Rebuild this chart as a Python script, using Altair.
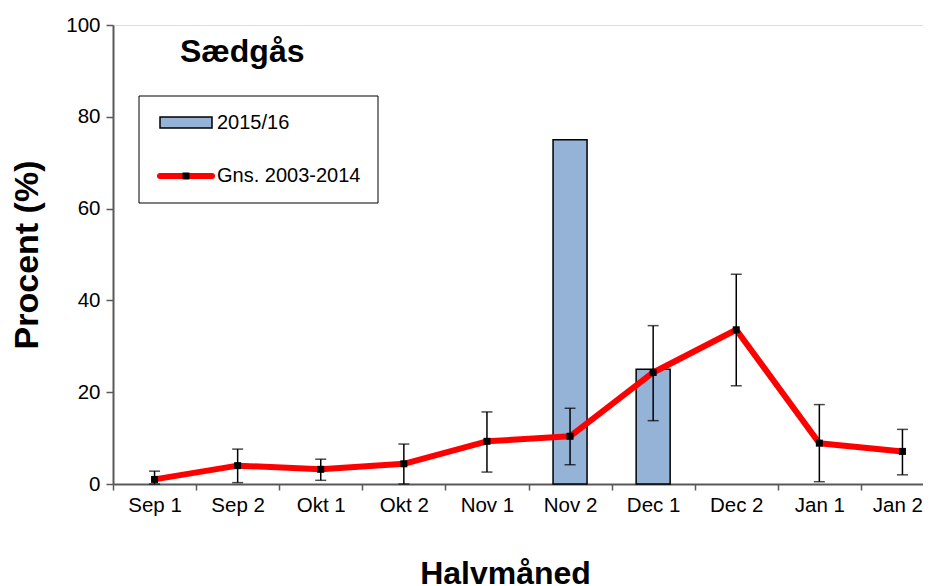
import altair as alt
import pandas as pd

categories = ["Sep 1", "Sep 2", "Okt 1", "Okt 2", "Nov 1", "Nov 2", "Dec 1", "Dec 2", "Jan 1", "Jan 2"]
season_2015 = [0, 0, 0, 0, 0, 75, 25, 0, 0, 0]
mean_2003_2014 = [1.0, 4.0, 3.2, 4.4, 9.3, 10.4, 24.3, 33.6, 8.9, 7.1]
err_low = [0.0, 0.3, 0.8, 0.0, 2.6, 4.2, 13.8, 21.4, 0.5, 2.0]
err_high = [2.8, 7.6, 5.4, 8.7, 15.7, 16.5, 34.5, 45.7, 17.3, 11.9]
y_ticks = [0, 20, 40, 60, 80, 100]

df = pd.DataFrame({
    "i": list(range(len(categories))),
    "cat": categories,
    "bar": season_2015,
    "mean": mean_2003_2014,
    "lo": err_low,
    "hi": err_high,
})

FONT = "Liberation Sans"
AXIS_COLOR = "#595959"

PLOT_W = 810
STEP = 83.1
x_max = -0.5 + PLOT_W / STEP  # the original plot runs past the right edge of the picture
boundaries = [k - 0.5 for k in range(len(categories))]
cat_js = "[" + ",".join("'" + c + "'" for c in categories) + "]"
last_b = boundaries[-1]

x_scale = alt.Scale(domain=[-0.5, x_max], nice=False, zero=False, padding=0)
x_axis = alt.Axis(
    title="Halvmåned",
    values=boundaries,
    labelExpr=cat_js + "[round(datum.value + 0.5)]",
    labelOffset={"expr": f"datum.value > {last_b - 0.1} ? {STEP / 2 - 5} : {STEP / 2}"},
    labelFlush=False,
    labelOverlap=False,
    labelAngle=0,
    labelFontSize=20.5,
    labelColor="black",
    labelPadding=5,
    tickSize=6,
    tickColor=AXIS_COLOR,
    tickWidth=1.5,
    domainColor=AXIS_COLOR,
    domainWidth=2,
    grid=False,
    titleFontSize=32,
    titleFontWeight="bold",
    titleX=392,
    titleY=99,
    titleBaseline="alphabetic",
    titleAnchor="middle",
)
y_scale = alt.Scale(domain=[0, 100], nice=False)
y_axis = alt.Axis(
    title="Procent (%)",
    values=y_ticks,
    labelFontSize=20.5,
    labelColor="black",
    labelPadding=6,
    tickSize=7,
    tickColor=AXIS_COLOR,
    tickWidth=1.5,
    domainColor=AXIS_COLOR,
    domainWidth=2,
    grid=False,
    titleFontSize=34,
    titleFontWeight="bold",
    titleAngle=-90,
    titleX=-76,
    titleY=229.5,
    titleBaseline="alphabetic",
    titleAlign="center",
)

base = alt.Chart(df)

bars = base.transform_filter("datum.bar > 0").mark_bar(
    size=34, fill="#95B3D7", stroke="black", strokeWidth=1.5
).encode(
    x=alt.X("i:Q", scale=x_scale, axis=x_axis),
    y=alt.Y("bar:Q", scale=y_scale, axis=y_axis),
)

line = base.mark_line(color="#FF0000", strokeWidth=6, strokeJoin="round").encode(
    x="i:Q", y="mean:Q"
)
err = base.mark_rule(color="black", strokeWidth=1.5).encode(
    x="i:Q", y="lo:Q", y2="hi:Q"
)
cap_hi = base.mark_tick(color="black", size=11, thickness=1.5, orient="horizontal").encode(
    x="i:Q", y="hi:Q"
)
cap_lo = base.mark_tick(color="black", size=11, thickness=1.5, orient="horizontal").encode(
    x="i:Q", y="lo:Q"
)
points = base.mark_square(color="black", size=49, opacity=1).encode(
    x="i:Q", y="mean:Q"
)

one = pd.DataFrame({"k": [0]})
deco = alt.Chart(one)

title_txt = deco.mark_text(
    text="Sædgås", font=FONT, fontSize=32, fontWeight="bold", align="left", baseline="alphabetic", color="black"
).encode(x=alt.value(67), y=alt.value(37))

legend_box = deco.mark_rect(fill="white", stroke="black", strokeWidth=1).encode(
    x=alt.value(26), x2=alt.value(265), y=alt.value(71), y2=alt.value(178)
)
leg_bar = deco.mark_rect(fill="#95B3D7", stroke="black", strokeWidth=1.5).encode(
    x=alt.value(47), x2=alt.value(99), y=alt.value(92), y2=alt.value(103)
)
leg_bar_txt = deco.mark_text(
    text="2015/16", font=FONT, fontSize=20, align="left", baseline="middle", color="black"
).encode(x=alt.value(104), y=alt.value(98))
leg_line = deco.mark_rule(color="#FF0000", strokeWidth=6, strokeCap="round").encode(
    x=alt.value(47), x2=alt.value(99), y=alt.value(151)
)
leg_pt = deco.mark_square(color="black", size=49, opacity=1).encode(
    x=alt.value(73), y=alt.value(151)
)
leg_line_txt = deco.mark_text(
    text="Gns. 2003-2014", font=FONT, fontSize=20, align="left", baseline="middle", color="black"
).encode(x=alt.value(104), y=alt.value(151))

chart = alt.layer(
    bars, line, err, cap_hi, cap_lo, points,
    title_txt, legend_box, leg_bar, leg_bar_txt, leg_line, leg_pt, leg_line_txt,
).properties(
    width=PLOT_W,
    height=459,
    autosize=alt.AutoSizeParams(type="none"),
    padding={"left": 105, "top": 17, "right": 0, "bottom": 102},
    background="white",
).configure_view(
    fill="#C0C0C0", stroke=None
).configure(
    font=FONT
)

chart.save("out.html", embed_options={"renderer": "svg", "actions": False})
